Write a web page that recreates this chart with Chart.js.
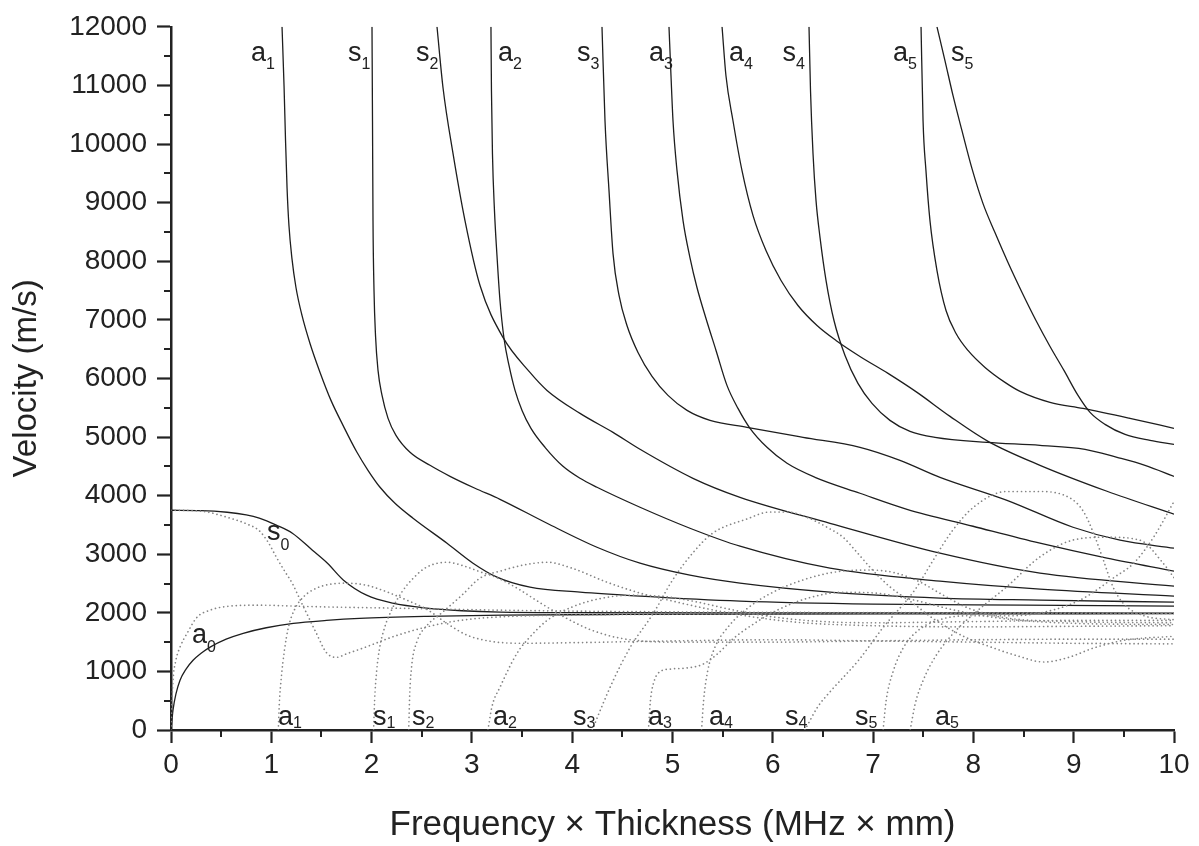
<!DOCTYPE html>
<html>
<head>
<meta charset="utf-8">
<script src="https://cdn.jsdelivr.net/npm/chart.js@4.4.1/dist/chart.umd.min.js"></script>
<style>
html,body{margin:0;padding:0;background:#fff;}
#wrap{width:1199px;height:846px;position:relative;}
</style>
</head>
<body>
<div id="wrap"><canvas id="c" width="1199" height="846"></canvas></div>
<script>
// ---- axis ticks ----
const xTickValues = [0,1,2,3,4,5,6,7,8,9,10];
const yTickValues = [0,1000,2000,3000,4000,5000,6000,7000,8000,9000,10000,11000,12000];

// ---- phase velocity (solid) : [f*d (MHz*mm), velocity (m/s)] ----
const phaseA0 = [[0,0],[0.02,340],[0.05,620],[0.09,850],[0.15,1040],[0.22,1190],[0.3,1310],[0.39,1415],[0.55,1550],[0.72,1650],[0.95,1745],[1.22,1820],[1.55,1870],[1.88,1905],[2.55,1940],[3.3,1960],[4.5,1972],[6,1978],[8,1982],[10,1985]];
const phaseS0 = [[0,3750],[0.3,3745],[0.56,3716],[0.75,3670],[0.88,3614],[1.05,3495],[1.21,3358],[1.41,3068],[1.56,2846],[1.72,2557],[1.95,2301],[2.21,2165],[2.55,2080],[2.9,2035],[3.28,2011],[4,2003],[6,2000],[8,1998],[10,1996]];
const phaseA1 = [[1.107,12000],[1.127,10994],[1.142,10057],[1.157,9255],[1.176,8608],[1.206,8045],[1.246,7551],[1.306,7074],[1.386,6596],[1.486,6102],[1.595,5625],[1.715,5199],[1.854,4739],[1.964,4432],[2.084,4142],[2.233,3869],[2.413,3614],[2.752,3187],[3.011,2847],[3.25,2608],[3.579,2437],[4.078,2352],[4.676,2284],[5.673,2199],[6.999,2148],[8.504,2131],[10,2114]];
const phaseS1 = [[2.004,12000],[2.009,10397],[2.014,8693],[2.024,7500],[2.039,6733],[2.064,6136],[2.104,5710],[2.164,5318],[2.243,5028],[2.383,4739],[2.582,4517],[2.782,4329],[3.031,4125],[3.28,3937],[3.749,3528],[4.247,3119],[4.676,2847],[5.174,2642],[5.673,2506],[6.57,2352],[7.667,2250],[8.664,2216],[10,2182]];
const phaseS2 = [[2.652,12000],[2.712,10960],[2.812,9835],[2.931,8693],[3.081,7585],[3.31,6699],[3.579,6102],[3.749,5795],[4.078,5403],[4.407,5079],[4.676,4790],[5.204,4295],[5.673,3971],[6.57,3528],[7.667,3017],[8.664,2676],[10,2454]];
const phaseA2 = [[3.19,12000],[3.195,10909],[3.205,9835],[3.225,8863],[3.25,8096],[3.28,7329],[3.32,6682],[3.37,6221],[3.43,5795],[3.5,5454],[3.589,5148],[3.729,4824],[3.908,4500],[4.078,4295],[4.247,4142],[4.676,3801],[5.174,3443],[5.673,3136],[6.57,2761],[7.667,2540],[8.664,2403],[10,2284]];
const phaseS3 = [[4.297,12000],[4.327,10397],[4.367,9204],[4.407,8130],[4.467,7415],[4.546,6903],[4.656,6443],[4.796,6034],[4.955,5710],[5.145,5454],[5.374,5284],[5.743,5165],[6.301,4994],[6.869,4824],[7.268,4602],[7.667,4312],[8.335,3920],[8.993,3460],[9.462,3239],[10,3102]];
const phaseA3 = [[4.965,12000],[4.985,11164],[5.005,10397],[5.045,9545],[5.105,8693],[5.174,8062],[5.244,7551],[5.334,7023],[5.434,6477],[5.543,5881],[5.653,5488],[5.773,5148],[5.942,4824],[6.142,4551],[6.421,4312],[6.869,4040],[7.338,3767],[7.996,3477],[8.664,3187],[9.332,2932],[10,2710]];
const phaseA4 = [[5.494,12000],[5.533,11164],[5.603,10397],[5.693,9545],[5.803,8778],[5.932,8182],[6.082,7670],[6.251,7244],[6.441,6903],[6.63,6648],[6.869,6375],[7.149,6085],[7.438,5761],[7.767,5352],[8.146,4926],[8.664,4517],[9.332,4074],[10,3682]];
const phaseS4 = [[6.361,12000],[6.376,10909],[6.401,9835],[6.431,9034],[6.471,8403],[6.531,7670],[6.61,6988],[6.72,6392],[6.849,5915],[6.989,5574],[7.168,5284],[7.368,5096],[7.617,4994],[8.136,4909],[8.664,4858],[9.113,4790],[9.432,4653],[9.711,4517],[10,4329]];
const phaseA5 = [[7.478,12000],[7.498,10397],[7.527,9545],[7.567,8693],[7.637,7841],[7.727,7159],[7.827,6767],[7.946,6477],[8.116,6187],[8.315,5932],[8.465,5778],[8.764,5591],[9.093,5488],[9.561,5318],[10,5148]];
const phaseS5 = [[7.637,12000],[7.717,11420],[7.797,10824],[7.886,10227],[7.986,9579],[8.096,8983],[8.215,8488],[8.345,7977],[8.485,7466],[8.624,6988],[8.764,6545],[8.903,6136],[9.043,5710],[9.163,5420],[9.312,5216],[9.512,5045],[9.761,4943],[10,4875]];

// ---- group velocity (dotted) ----
const groupS0 = [[0,3750],[0.3,3735],[0.56,3630],[0.75,3520],[0.88,3400],[0.97,3200],[1.05,2950],[1.13,2720],[1.21,2500],[1.28,2250],[1.35,2000],[1.45,1650],[1.55,1320],[1.65,1240],[1.75,1300],[1.95,1420],[2.21,1590],[2.55,1760],[2.88,1870],[3.28,1930],[4,1962],[5,1975],[7,1985],[10,1990]];
const groupA0 = [[0,0],[0.01,500],[0.02,850],[0.05,1200],[0.09,1415],[0.16,1650],[0.26,1925],[0.39,2045],[0.56,2110],[0.88,2130],[1.21,2115],[1.55,2100],[2.21,2080],[3.28,2045],[5,2015],[7,2003],[10,1995]];
const groupA1 = [[1.07,0],[1.08,450],[1.1,900],[1.13,1350],[1.17,1750],[1.23,2050],[1.32,2270],[1.45,2420],[1.6,2490],[1.75,2505],[1.95,2470],[2.1,2390],[2.25,2290],[2.4,2180],[2.55,2060],[2.75,1820],[2.95,1620],[3.2,1510],[3.5,1480],[4,1490],[5,1520],[6,1540],[7,1520],[8,1500],[9,1480],[10,1470]];
const groupS1 = [[2.02,0],[2.03,500],[2.05,1000],[2.08,1400],[2.13,1750],[2.2,2050],[2.3,2350],[2.42,2600],[2.55,2780],[2.75,2863],[2.92,2800],[3.08,2700],[3.25,2600],[3.45,2420],[3.7,2150],[3.95,1900],[4.2,1700],[4.5,1560],[5,1500],[6,1500],[7,1520],[8,1540],[9,1550],[10,1550]];
const groupS2 = [[2.37,0],[2.38,600],[2.4,1100],[2.45,1500],[2.55,1780],[2.7,2000],[2.9,2300],[3.08,2590],[3.3,2720],[3.5,2810],[3.75,2863],[4.0,2760],[4.35,2520],[4.68,2335],[5.0,2200],[5.4,2050],[5.8,1930],[6.3,1830],[7,1780],[8,1760],[9,1770],[10,1780]];
const groupA2 = [[3.16,0],[3.2,400],[3.28,730],[3.45,1310],[3.58,1590],[3.75,1870],[4.0,2100],[4.3,2250],[4.6,2300],[4.9,2280],[5.2,2200],[5.6,2050],[6.0,1930],[6.5,1850],[7,1830],[8,1850],[9,1870],[10,1870]];
const groupS3 = [[4.2,0],[4.3,420],[4.41,850],[4.58,1415],[4.81,1994],[5.0,2557],[5.2,3017],[5.4,3358],[5.74,3600],[5.97,3720],[6.15,3720],[6.34,3630],[6.55,3450],[6.7,3290],[6.84,3030],[7.0,2720],[7.17,2440],[7.4,2160],[7.6,1900],[7.9,1600],[8.2,1400],[8.45,1260],[8.7,1160],[8.95,1240],[9.2,1400],[9.5,1530],[10,1600]];
const groupA3 = [[4.76,0],[4.78,500],[4.82,850],[4.88,1000],[4.98,1040],[5.15,1060],[5.3,1120],[5.45,1300],[5.6,1550],[5.8,1800],[6.05,2050],[6.35,2250],[6.7,2350],[7.0,2340],[7.4,2220],[7.8,2050],[8.3,1900],[9,1820],[10,1800]];
const groupA4 = [[5.29,0],[5.31,500],[5.35,1000],[5.42,1400],[5.55,1750],[5.75,2080],[6.0,2350],[6.3,2560],[6.6,2690],[6.95,2730],[7.2,2690],[7.45,2540],[7.7,2300],[7.95,2080],[8.3,1920],[9,1850],[10,1830]];
const groupS4 = [[6.32,0],[6.45,400],[6.57,650],[6.86,1200],[7.1,1750],[7.42,2400],[7.6,2900],[7.79,3400],[8.0,3800],[8.33,4070],[8.66,4070],[8.99,3930],[9.1,3720],[9.2,3350],[9.3,2880],[9.39,2450],[9.5,2150],[9.7,1950],[10,1880]];
const groupS5 = [[7.1,0],[7.13,500],[7.2,1000],[7.3,1400],[7.45,1700],[7.7,1900],[8.0,1950],[8.4,1950],[8.8,2050],[9.1,2250],[9.4,2600],[9.6,2850],[9.8,3300],[10,3900]];
const groupA5 = [[7.37,0],[7.42,450],[7.5,850],[7.62,1250],[7.8,1650],[8.05,2050],[8.33,2440],[8.66,2950],[8.99,3240],[9.33,3290],[9.66,3240],[9.89,2850],[10,2600]];

// ---- mode label texts ----
const labelLetters = ['a','s','s','a','s','a','a','s','a','s'];
const labelSubs    = ['1','1','2','2','3','3','4','4','5','5'];
const topLabelX    = [0.798,1.765,2.443,3.260,4.048,4.766,5.563,6.097,7.198,7.776];
const bottomLetters = ['a','s','s','a','s','a','a','s','s','a'];
const bottomSubs    = ['1','1','2','2','3','3','4','4','5','5'];
const bottomLabelX  = [1.067,2.014,2.403,3.210,4.008,4.756,5.364,6.122,6.820,7.617];
const topLabelV = 11420, bottomLabelV = 85;

const phaseSets = [phaseA0,phaseS0,phaseA1,phaseS1,phaseS2,phaseA2,phaseS3,phaseA3,phaseA4,phaseS4,phaseA5,phaseS5];
const groupSets = [groupS0,groupA0,groupA1,groupS1,groupS2,groupA2,groupS3,groupA3,groupA4,groupS4,groupS5,groupA5];

const toPts = arr => arr.map(p => ({x:p[0], y:p[1]}));
const datasets = [];
groupSets.forEach(g => datasets.push({
  data: toPts(g), showLine:true, pointRadius:0, borderColor:'#848484', borderWidth:1.7,
  borderDash:[0.01,4.2], borderCapStyle:'round', cubicInterpolationMode:'monotone', fill:false
}));
phaseSets.forEach(g => datasets.push({
  data: toPts(g), showLine:true, pointRadius:0, borderColor:'#1e1e1e', borderWidth:1.3,
  cubicInterpolationMode:'monotone', fill:false
}));

const FONT = "'Liberation Sans', Arial, Helvetica, sans-serif";

const extras = {
  id:'extras',
  afterDraw(chart){
    const ctx = chart.ctx, xs = chart.scales.x, ys = chart.scales.y;
    const L = chart.chartArea.left, B = chart.chartArea.bottom;
    ctx.save();
    ctx.strokeStyle = '#222'; ctx.lineWidth = 2;
    for (let v = 500; v < 12000; v += 1000) {
      const py = Math.round(ys.getPixelForValue(v));
      ctx.beginPath(); ctx.moveTo(L-7, py); ctx.lineTo(L, py); ctx.stroke();
    }
    for (let v = 0.5; v < 10; v += 1) {
      const px = Math.round(xs.getPixelForValue(v));
      ctx.beginPath(); ctx.moveTo(px, B); ctx.lineTo(px, B+7); ctx.stroke();
    }
    ctx.fillStyle = '#222';
    ctx.textBaseline = 'alphabetic';
    const drawLabel = (letter, sub, xv, yv, subDrop) => {
      const px = xs.getPixelForValue(xv), py = ys.getPixelForValue(yv);
      ctx.font = '27px ' + FONT;
      ctx.fillText(letter, px, py);
      const w = ctx.measureText(letter).width;
      ctx.font = '16px ' + FONT;
      ctx.fillText(sub, px + w, py + subDrop);
    };
    labelLetters.forEach((l,i) => drawLabel(l, labelSubs[i], topLabelX[i], topLabelV, 8));
    bottomLetters.forEach((l,i) => drawLabel(l, bottomSubs[i], bottomLabelX[i], bottomLabelV, 3));
    drawLabel('s','0',0.957,3239,10);
    drawLabel('a','0',0.209,1483,9);
    ctx.restore();
  }
};

new Chart(document.getElementById('c'), {
  type:'scatter',
  data:{datasets},
  options:{
    responsive:false, animation:false,
    layout:{padding:{top:26,right:25,left:0,bottom:0}},
    plugins:{legend:{display:false}, tooltip:{enabled:false}},
    scales:{
      x:{
        type:'linear', min:0, max:10,
        afterFit: s => { s.height = 116; },
        afterBuildTicks: s => { s.ticks = xTickValues.map(v => ({value:v})); },
        ticks:{font:{family:FONT,size:28}, color:'#222', padding:5, maxRotation:0, autoSkip:false, callback: v => String(v)},
        grid:{display:true, drawOnChartArea:false, drawTicks:true, tickLength:13, tickWidth:2.2, tickColor:'#222'},
        border:{display:true, color:'#222', width:2.5},
        title:{display:true, text:'Frequency \u00d7 Thickness (MHz \u00d7 mm)', font:{family:FONT,size:35}, color:'#222', padding:{top:0,bottom:0}}
      },
      y:{
        type:'linear', min:0, max:12000,
        afterFit: s => { s.width = 171; },
        afterBuildTicks: s => { s.ticks = yTickValues.map(v => ({value:v})); },
        ticks:{font:{family:FONT,size:28}, color:'#222', padding:10, autoSkip:false, callback: v => String(v)},
        grid:{display:true, drawOnChartArea:false, drawTicks:true, tickLength:14, tickWidth:2.2, tickColor:'#222'},
        border:{display:true, color:'#222', width:2.5},
        title:{display:true, text:'Velocity (m/s)', font:{family:FONT,size:33}, color:'#222', padding:{top:7,bottom:0}}
      }
    }
  },
  plugins:[extras]
});
</script>
</body>
</html>
